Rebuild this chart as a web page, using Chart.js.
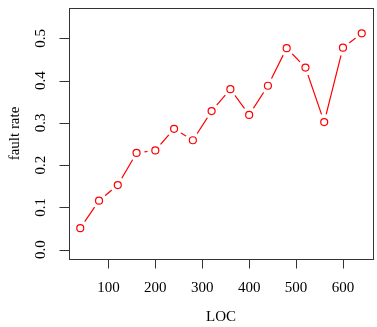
<!DOCTYPE html>
<html>
<head>
<meta charset="utf-8">
<script src="https://cdn.jsdelivr.net/npm/chart.js@4/dist/chart.umd.min.js"></script>
<style>
  html, body { margin: 0; padding: 0; background: #fff; overflow: hidden; }
  #wrap { width: 377px; height: 327px; overflow: hidden; }
</style>
</head>
<body>
<div id="wrap"><canvas id="myChart" width="381" height="327"></canvas></div>
<script>
// lines of code vs. observed fault rate
var loc = [40, 80, 120, 160, 200, 240, 280, 320, 360, 400, 440, 480, 520, 560, 600, 640];
var faultRate = [0.051, 0.116, 0.153, 0.229, 0.235, 0.286, 0.259, 0.328, 0.380, 0.319, 0.388, 0.477, 0.431, 0.302, 0.478, 0.512];

var xTicks = [100, 200, 300, 400, 500, 600];
var yTicks = [0.0, 0.1, 0.2, 0.3, 0.4, 0.5];
var yTickLabels = ['0.0', '0.1', '0.2', '0.3', '0.4', '0.5'];

var points = loc.map(function(x, i) { return { x: x, y: faultRate[i] }; });

var axisFont = '15px "Liberation Serif", "DejaVu Serif", serif';

// box, axes and labels drawn the old-fashioned way
var axesPlugin = {
    id: 'rAxes',
    afterDraw: function(chart) {
        var ctx = chart.ctx;
        var a = chart.chartArea;
        var xs = chart.scales.x, ys = chart.scales.y;
        ctx.save();
        ctx.strokeStyle = '#333';
        ctx.lineWidth = 1;
        ctx.strokeRect(Math.round(a.left) + 0.5, Math.round(a.top) + 0.5,
            Math.round(a.right - a.left), Math.round(a.bottom - a.top));

        ctx.fillStyle = '#000';
        ctx.font = axisFont;

        // bottom axis
        var by = Math.round(a.bottom) + 0.5;
        var x0 = Math.round(xs.getPixelForValue(xTicks[0])) + 0.5;
        var x1 = Math.round(xs.getPixelForValue(xTicks[xTicks.length - 1])) + 0.5;
        ctx.beginPath();
        ctx.moveTo(x0, by); ctx.lineTo(x1, by);
        xTicks.forEach(function(t) {
            var px = Math.round(xs.getPixelForValue(t)) + 0.5;
            ctx.moveTo(px, by); ctx.lineTo(px, by + 9);
        });
        ctx.stroke();
        ctx.textAlign = 'center';
        ctx.textBaseline = 'middle';
        xTicks.forEach(function(t) {
            ctx.fillText(String(t), xs.getPixelForValue(t), 288);
        });
        ctx.fillText('LOC', (a.left + a.right) / 2, 317);

        // left axis
        var lx = Math.round(a.left) + 0.5;
        var y0 = Math.round(ys.getPixelForValue(yTicks[0])) + 0.5;
        var y1 = Math.round(ys.getPixelForValue(yTicks[yTicks.length - 1])) + 0.5;
        ctx.beginPath();
        ctx.moveTo(lx, y0); ctx.lineTo(lx, y1);
        yTicks.forEach(function(t) {
            var py = Math.round(ys.getPixelForValue(t)) + 0.5;
            ctx.moveTo(lx, py); ctx.lineTo(lx - 10, py);
        });
        ctx.stroke();
        yTicks.forEach(function(t, i) {
            ctx.save();
            ctx.translate(41, ys.getPixelForValue(t));
            ctx.rotate(-Math.PI / 2);
            ctx.fillText(yTickLabels[i], 0, 0);
            ctx.restore();
        });
        ctx.save();
        ctx.translate(15, (a.top + a.bottom) / 2);
        ctx.rotate(-Math.PI / 2);
        ctx.fillText('fault rate', 0, 0);
        ctx.restore();
        ctx.restore();
    }
};

var ctx = document.getElementById('myChart').getContext('2d');
var myChart = new Chart(ctx, {
    type: 'scatter',
    data: {
        datasets: [{
            // connecting line
            data: points,
            showLine: true,
            borderColor: '#ff0000',
            borderWidth: 1.2,
            pointRadius: 0,
            order: 3
        }, {
            // white halo that leaves the gap around each point
            data: points,
            showLine: false,
            pointRadius: 8,
            pointBackgroundColor: '#ffffff',
            pointBorderWidth: 0,
            pointBorderColor: '#ffffff',
            order: 2
        }, {
            // open circles
            data: points,
            showLine: false,
            pointRadius: 3.5,
            pointBackgroundColor: '#ffffff',
            pointBorderColor: '#ff0000',
            pointBorderWidth: 1.2,
            order: 1
        }]
    },
    options: {
        responsive: false,
        animation: false,
        layout: { padding: { left: 69, top: 4, right: 2, bottom: 68 } },
        plugins: { legend: { display: false }, tooltip: { enabled: false } },
        scales: {
            x: { type: 'linear', min: 16, max: 664, display: false },
            y: { type: 'linear', min: -0.022, max: 0.572, display: false }
        }
    },
    plugins: [axesPlugin]
});
</script>
</body>
</html>
